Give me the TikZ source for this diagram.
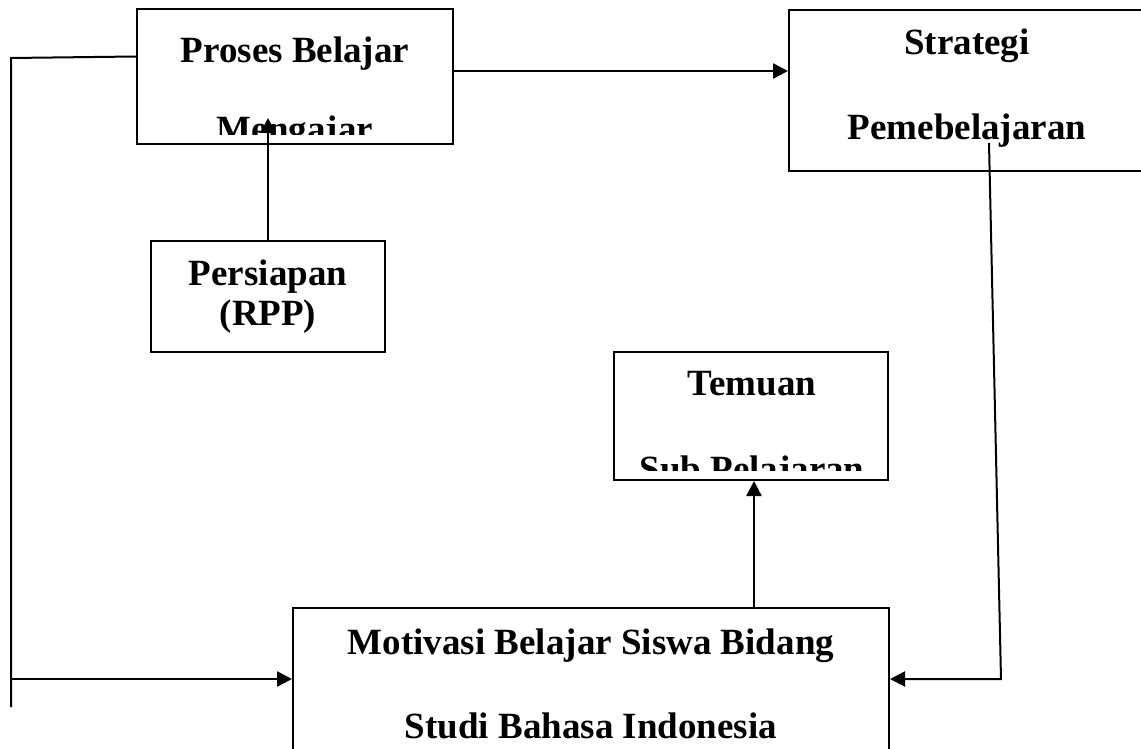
\documentclass[tikz,border=0pt]{standalone}
\usepackage{fontspec}
\setmainfont{Liberation Serif}
\usetikzlibrary{arrows.meta, positioning, calc}

\begin{document}
\begin{tikzpicture}[x=0.5pt, y=-0.5pt, line width=1pt,
  box node/.style={rectangle, draw, line width=1pt, inner sep=0pt},
  text node/.style={inner sep=0pt, anchor=base, font=\bfseries\fontsize{18.5}{22}\selectfont},
  arr/.style={-{Triangle[length=7.5pt, width=7.5pt]}, line width=1.25pt}]
  \useasboundingbox (0,0) rectangle (1141,749);
  % boxes
  \node[box node, minimum width=158pt, minimum height=67.5pt] (pbm) at (295,76.5) {};
  \node[box node, minimum width=178pt, minimum height=80.5pt] (spb) at (967,90.5) {};
  \node[box node, minimum width=117pt, minimum height=55.5pt] (rpp) at (268,296.5) {};
  \node[box node, minimum width=137pt, minimum height=64pt] (tsp) at (751,416) {};
  \node[box node, minimum width=298pt, minimum height=81pt] (mot) at (591,689) {};
  % texts
  \node[text node] (pbm1) at (295,63) {Proses Belajar};
  \begin{scope}
    \clip (137,9) rectangle (453,135);
    \node[text node] (pbm2) at (295,141) {Mengajar};
  \end{scope}
  \node[text node] (spb1) at (967,55) {Strategi};
  \node[text node] (spb2) at (967,140) {Pemebelajaran};
  \node[text node] (rpp1) at (268,285) {Persiapan};
  \node[text node] (rpp2) at (268,325) {(RPP)};
  \node[text node] (tsp1) at (752,395) {Temuan};
  \begin{scope}
    \clip (614,352) rectangle (888,470);
    \node[text node] (tsp2) at (752,481) {Sub Pelajaran};
  \end{scope}
  \node[text node] (mot1) at (591,654) {Motivasi Belajar Siswa Bidang};
  \node[text node] (mot2) at (591,738) {Studi Bahasa Indonesia};
  % connectors
  \coordinate (t1) at ([yshift=2.75pt]pbm.east);
  \draw[arr] (t1) -- (t1 -| spb.west);
  \coordinate (pt) at (268,118);
  \draw[arr] (rpp.north) -- (pt);
  \draw[arr] ([xshift=1.5pt]mot.north -| tsp.south) -- ([xshift=1.5pt]tsp.south);
  \coordinate (lt) at (11,58);
  \coordinate (la) at (11,679);
  \coordinate (lb) at (11,707);
  \draw ([yshift=10pt]pbm.west) -- (lt) -- (lb);
  \draw[arr] (la) -- (la -| mot.west);
  \coordinate (rs) at (989,143);
  \coordinate (rc) at (1001,679);
  \draw[arr, line width=1pt] (rs) -- (rc) -- (rc -| mot.east);
\end{tikzpicture}
\end{document}
